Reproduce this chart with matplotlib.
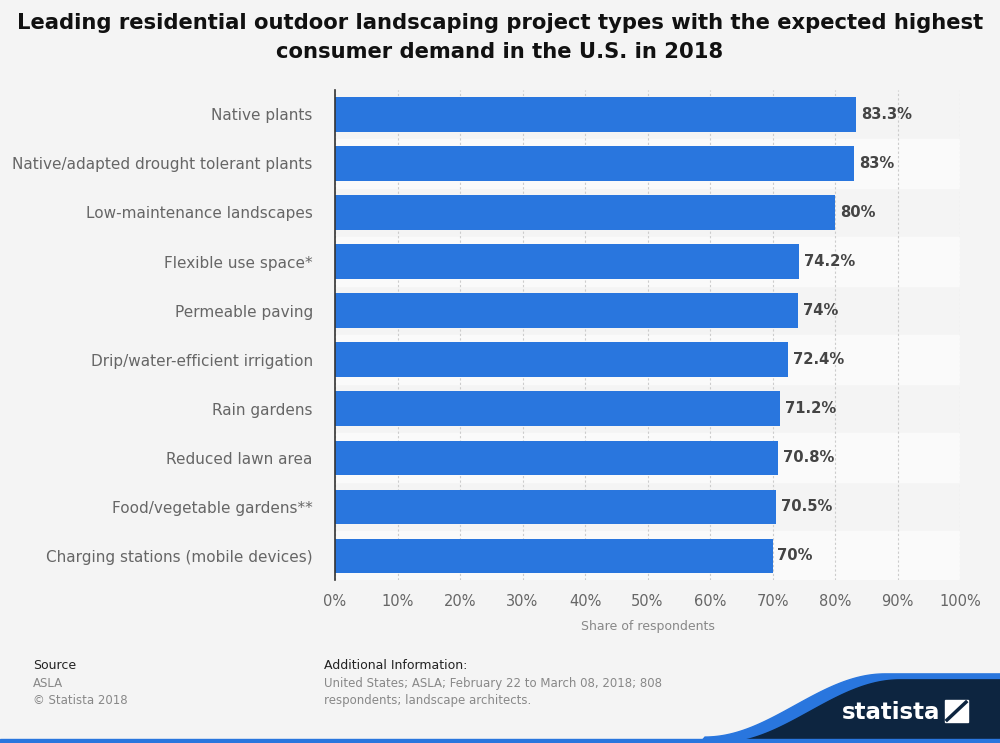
import matplotlib.pyplot as plt
import numpy as np
from matplotlib.patches import Polygon, Rectangle

categories = ['Native plants', 'Native/adapted drought tolerant plants', 'Low-maintenance landscapes',
              'Flexible use space*', 'Permeable paving', 'Drip/water-efficient irrigation',
              'Rain gardens', 'Reduced lawn area', 'Food/vegetable gardens**',
              'Charging stations (mobile devices)']
values = [83.3, 83, 80, 74.2, 74, 72.4, 71.2, 70.8, 70.5, 70]
value_labels = ['83.3%', '83%', '80%', '74.2%', '74%', '72.4%', '71.2%', '70.8%', '70.5%', '70%']
xticks = [0, 10, 20, 30, 40, 50, 60, 70, 80, 90, 100]

bg = '#f4f4f4'
fig = plt.figure(figsize=(10, 7.43), dpi=100, facecolor=bg)
ax = fig.add_axes([0.335, 0.219, 0.625, 0.66])
ax.set_facecolor(bg)

y = np.arange(len(categories))
for i in y:
    if i % 2 == 1:
        ax.axhspan(i - 0.5, i + 0.5, color='#fafafa', zorder=0)

ax.barh(y, values, height=0.7, color='#2976de', zorder=3)
for yi, v, lab in zip(y, values, value_labels):
    ax.text(v + 0.8, yi, lab, va='center', ha='left', fontsize=10.6, fontweight='bold', color='#444444')

ax.set_ylim(len(categories) - 0.5, -0.5)
ax.set_xlim(0, 100)
ax.set_yticks(y)
ax.set_yticklabels(categories, fontsize=11.0, color='#666666')
ax.set_xticks(xticks)
ax.set_xticklabels([f'{t}%' for t in xticks], fontsize=10.5, color='#666666')
ax.tick_params(axis='x', length=0, pad=10)
ax.tick_params(axis='y', length=0, pad=16)
ax.xaxis.grid(True, linestyle=(0, (2, 2)), color='#cccccc', linewidth=0.8, zorder=1)
for s in ['top', 'right', 'bottom']:
    ax.spines[s].set_visible(False)
ax.spines['left'].set_color('#333333')
ax.spines['left'].set_linewidth(1.2)
ax.spines['left'].set_zorder(4)
ax.set_xlabel('Share of respondents', fontsize=9, color='#888888', labelpad=8)

fig.text(0.5, 0.983, 'Leading residential outdoor landscaping project types with the expected highest\n'
         'consumer demand in the U.S. in 2018', ha='center', va='top', fontsize=15.2,
         fontweight='bold', color='#111111', linespacing=1.6)

fig.text(0.033, 0.100, 'Source', fontsize=9, color='#222222')
fig.text(0.033, 0.076, 'ASLA', fontsize=8.5, color='#888888')
fig.text(0.033, 0.053, '\u00a9 Statista 2018', fontsize=8.5, color='#888888')
fig.text(0.324, 0.100, 'Additional Information:', fontsize=9, color='#222222')
fig.text(0.324, 0.076, 'United States; ASLA; February 22 to March 08, 2018; 808', fontsize=8.5, color='#888888')
fig.text(0.324, 0.053, 'respondents; landscape architects.', fontsize=8.5, color='#888888')

# footer swoosh
t = np.linspace(0, 1, 60)
xs = 0.72 + 0.18 * t
ys = 0.085 * (0.5 - 0.5 * np.cos(np.pi * t))
blue = Polygon([(0.70, 0.0)] + [(x - 0.015, y_ + 0.008) for x, y_ in zip(xs, ys)] + [(1.0, 0.093), (1.0, 0.0)],
               closed=True, transform=fig.transFigure, color='#2976de', zorder=1)
navy = Polygon([(0.72, 0.0)] + list(zip(xs, ys)) + [(1.0, 0.085), (1.0, 0.0)], closed=True,
               transform=fig.transFigure, color='#0d2540', zorder=2)
fig.patches.extend([blue, navy])
fig.patches.append(Rectangle((0, 0), 1, 0.006, transform=fig.transFigure, color='#2976de', zorder=3))
fig.text(0.842, 0.041, 'statista', fontsize=16.5, fontweight='bold', color='white', va='center', zorder=5)
fig.patches.append(Rectangle((0.945, 0.028), 0.023, 0.03, transform=fig.transFigure, color='white', zorder=4))
fig.lines.append(plt.Line2D([0.947, 0.966], [0.031, 0.055], transform=fig.transFigure,
                            color='#0d2540', linewidth=2.5, zorder=6))

fig.savefig('out.png', dpi=100, facecolor=bg)
